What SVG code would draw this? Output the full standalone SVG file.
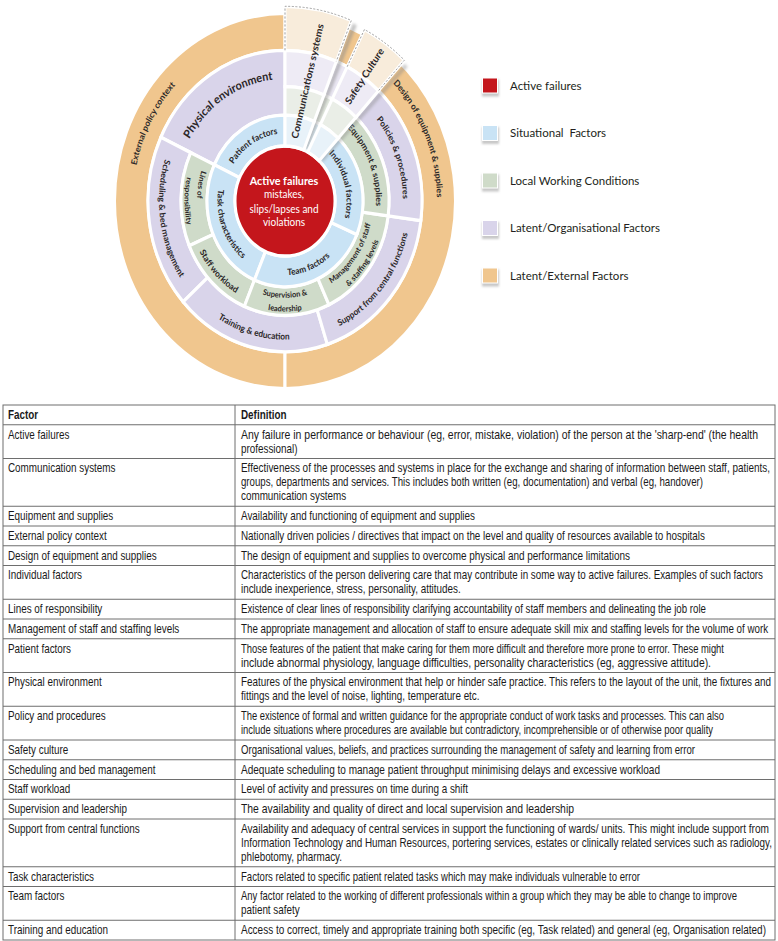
<svg xmlns="http://www.w3.org/2000/svg" width="778" height="941" viewBox="0 0 778 941">
<defs>
<style>
.seg{stroke:#fff;stroke-width:3;stroke-linejoin:miter}
.o{fill:#f0c68e}.p{fill:#d9d4ea}.g{fill:#cfdbc9}.b{fill:#c9e3f5}.r{fill:#c4161c}
.fo{fill:#f8ecdb}.fp{fill:#eeebf5}.fg{fill:#eaeee7}.fb{fill:#e8f2f9}
.dash{fill:none;stroke:#9b9b9b;stroke-width:0.9;stroke-dasharray:2 1.6}
.lab{font-family:Lato,"Open Sans","Liberation Sans",sans-serif;font-weight:700;font-size:8.2px;fill:#2a2627}
.sm{font-size:7.4px}
.big{font-size:10.8px}
.wl{font-family:Lato,"Open Sans","Liberation Sans",sans-serif;font-weight:700;font-size:9.5px;fill:#2a2627}
.ctr{font-family:Lato,"Open Sans","Liberation Sans",sans-serif;fill:#fff;text-anchor:middle}
.leg{font-family:Lato,"Open Sans","Liberation Sans",sans-serif;font-size:11.5px;fill:#231f20}
.tbl{font-family:"Liberation Sans",Arial,sans-serif;font-size:11.9px;fill:#1a1a1a}
.hd{font-weight:700}
.tl{stroke:#6e6e6e;stroke-width:1;fill:none}
</style>
<filter id="blur" x="-50%" y="-50%" width="200%" height="200%"><feGaussianBlur stdDeviation="1.6"/></filter>
<filter id="lsh" x="-40%" y="-40%" width="180%" height="180%"><feGaussianBlur stdDeviation="1.2"/></filter>
<path id="tp-ext" d="M -140.93 56.94 A 152 152 0 0 1 -31.60 -148.68"/>
<path id="tp-des" d="M 44.44 -145.36 A 152 152 0 0 1 135.43 69.01"/>
<path id="tp-phy" d="M -110.85 5.81 A 111 111 0 0 1 50.39 -98.90"/>
<path id="tp-sch" d="M -85.93 -92.15 A 126 126 0 0 0 -57.20 112.27"/>
<path id="tp-tra" d="M -118.40 43.09 A 126 126 0 0 0 80.99 96.52"/>
<path id="tp-sup" d="M -8.79 125.69 A 126 126 0 0 0 121.12 -34.73"/>
<path id="tp-pol" d="M 40.36 -110.88 A 118 118 0 0 1 102.19 59.00"/>
<path id="tp-lin1" d="M -44.00 -76.21 A 88 88 0 0 0 -67.41 56.57"/>
<path id="tp-lin2" d="M -64.60 -76.98 A 100.5 100.5 0 0 0 -64.60 76.98"/>
<path id="tp-stf" d="M -96.47 -10.14 A 97 97 0 0 0 6.77 96.76"/>
<path id="tp-sv1" d="M -67.41 56.57 A 88 88 0 0 0 67.41 56.57"/>
<path id="tp-sv2" d="M -76.99 64.60 A 100.5 100.5 0 0 0 76.99 64.60"/>
<path id="tp-mg1" d="M 6.14 87.79 A 88 88 0 0 0 85.39 -21.29"/>
<path id="tp-mg2" d="M 7.01 100.26 A 100.5 100.5 0 0 0 97.52 -24.31"/>
<path id="tp-eqp" d="M 28.12 -86.55 A 91 91 0 0 1 80.35 42.72"/>
<path id="tp-pat" d="M -61.46 2.15 A 61.5 61.5 0 0 1 28.87 -54.30"/>
<path id="tp-tsk" d="M -52.46 -42.48 A 67.5 67.5 0 0 0 -10.56 66.67"/>
<path id="tp-tea" d="M -41.56 53.19 A 67.5 67.5 0 0 0 66.84 9.39"/>
<path id="tp-ind" d="M 15.92 -59.40 A 61.5 61.5 0 0 1 43.49 43.49"/>
</defs>
<rect width="778" height="941" fill="#fff"/>

<g id="wheel" transform="translate(285,201) scale(1,1.1)">
  <g id="external-policy-context">
    <path class="seg o" d="M 0 170.5 A 170.5 170.5 0 0 1 0 -170.5 L 0 -137 A 137 137 0 0 0 0 137 Z"/>
    <text class="lab"><textPath href="#tp-ext" startOffset="50%" text-anchor="middle">External policy context</textPath></text>
  </g>
  <g id="design-of-equipment">
    <path class="seg o" d="M 63.87 -158.08 A 170.5 170.5 0 0 1 0 170.5 L 0 137 A 137 137 0 0 0 51.32 -127.02 Z"/>
    <text class="lab"><textPath href="#tp-des" startOffset="50%" text-anchor="middle">Design of equipment &amp; supplies</textPath></text>
  </g>
  <g id="physical-environment">
    <path class="seg p" d="M -124.16 -57.90 A 137 137 0 0 1 0 -137 L 0 -78 A 78 78 0 0 0 -70.69 -32.96 Z"/>
    <text class="lab big"><textPath href="#tp-phy" startOffset="50%" text-anchor="middle">Physical environment</textPath></text>
  </g>
  <g id="scheduling">
    <path class="seg p" d="M -101.81 91.67 A 137 137 0 0 1 -124.16 -57.90 L -94.26 -43.95 A 104 104 0 0 0 -77.29 69.59 Z"/>
    <text class="lab"><textPath href="#tp-sch" startOffset="50%" text-anchor="middle">Scheduling &amp; bed management</textPath></text>
  </g>
  <g id="training">
    <path class="seg p" d="M 42.34 130.30 A 137 137 0 0 1 -101.81 91.67 L -77.29 69.59 A 104 104 0 0 0 32.14 98.91 Z"/>
    <text class="lab"><textPath href="#tp-tra" startOffset="50%" text-anchor="middle">Training &amp; education</textPath></text>
  </g>
  <g id="support">
    <path class="seg p" d="M 135.83 17.88 A 137 137 0 0 1 42.34 130.30 L 32.14 98.91 A 104 104 0 0 0 103.11 13.58 Z"/>
    <text class="lab"><textPath href="#tp-sup" startOffset="50%" text-anchor="middle">Support from central functions</textPath></text>
  </g>
  <g id="policies">
    <path class="seg p" d="M 51.32 -127.02 A 137 137 0 0 1 135.83 17.88 L 103.11 13.58 A 104 104 0 0 0 38.96 -96.43 Z"/>
    <text class="lab"><textPath href="#tp-pol" startOffset="50%" text-anchor="middle">Policies &amp; procedures</textPath></text>
  </g>
  <g id="lines-of-responsibility">
    <path class="seg g" d="M -95.73 40.64 A 104 104 0 0 1 -94.26 -43.95 L -70.69 -32.96 A 78 78 0 0 0 -71.80 30.48 Z"/>
    <text class="lab sm"><textPath href="#tp-lin1" startOffset="50%" text-anchor="middle">Lines of</textPath></text>
    <text class="lab sm"><textPath href="#tp-lin2" startOffset="50%" text-anchor="middle">responsibility</textPath></text>
  </g>
  <g id="staff-workload">
    <path class="seg g" d="M -40.64 95.73 A 104 104 0 0 1 -95.73 40.64 L -71.80 30.48 A 78 78 0 0 0 -30.48 71.80 Z"/>
    <text class="lab"><textPath href="#tp-stf" startOffset="50%" text-anchor="middle">Staff workload</textPath></text>
  </g>
  <g id="supervision">
    <path class="seg g" d="M 43.95 94.26 A 104 104 0 0 1 -40.64 95.73 L -30.48 71.80 A 78 78 0 0 0 32.96 70.69 Z"/>
    <text class="lab sm"><textPath href="#tp-sv1" startOffset="50%" text-anchor="middle">Supervision &amp;</textPath></text>
    <text class="lab sm"><textPath href="#tp-sv2" startOffset="50%" text-anchor="middle">leadership</textPath></text>
  </g>
  <g id="management-of-staff">
    <path class="seg g" d="M 103.11 13.58 A 104 104 0 0 1 43.95 94.26 L 32.96 70.69 A 78 78 0 0 0 77.33 10.18 Z"/>
    <text class="lab sm"><textPath href="#tp-mg1" startOffset="50%" text-anchor="middle">Management of staff</textPath></text>
    <text class="lab sm"><textPath href="#tp-mg2" startOffset="50%" text-anchor="middle">&amp; staffing levels</textPath></text>
  </g>
  <g id="equipment-supplies">
    <path class="seg g" d="M 38.96 -96.43 A 104 104 0 0 1 103.11 13.58 L 77.33 10.18 A 78 78 0 0 0 29.22 -72.32 Z"/>
    <text class="lab"><textPath href="#tp-eqp" startOffset="50%" text-anchor="middle">Equipment &amp; supplies</textPath></text>
  </g>
  <g id="patient-factors">
    <path class="seg b" d="M -70.69 -32.96 A 78 78 0 0 1 0 -78 L 0 -50 A 50 50 0 0 0 -45.32 -21.13 Z"/>
    <text class="lab"><textPath href="#tp-pat" startOffset="50%" text-anchor="middle">Patient factors</textPath></text>
  </g>
  <g id="task-characteristics">
    <path class="seg b" d="M -30.48 71.80 A 78 78 0 0 1 -70.69 -32.96 L -45.32 -21.13 A 50 50 0 0 0 -19.54 46.03 Z"/>
    <text class="lab"><textPath href="#tp-tsk" startOffset="50%" text-anchor="middle">Task characteristics</textPath></text>
  </g>
  <g id="team-factors">
    <path class="seg b" d="M 71.80 30.48 A 78 78 0 0 1 -30.48 71.80 L -19.54 46.03 A 50 50 0 0 0 46.03 19.54 Z"/>
    <text class="lab"><textPath href="#tp-tea" startOffset="50%" text-anchor="middle">Team factors</textPath></text>
  </g>
  <g id="individual-factors">
    <path class="seg b" d="M 29.22 -72.32 A 78 78 0 0 1 71.80 30.48 L 46.03 19.54 A 50 50 0 0 0 18.73 -46.36 Z"/>
    <text class="lab"><textPath href="#tp-ind" startOffset="50%" text-anchor="middle">Individual factors</textPath></text>
  </g>
  <g id="active-failures">
    <circle r="50" class="r" stroke="#fff" stroke-width="3"/>
    <text class="ctr" x="-1" y="-14.5" font-size="10.8" font-weight="700">Active failures</text>
    <text class="ctr" x="-1" y="-2.7" font-size="10">mistakes,</text>
    <text class="ctr" x="-1" y="10.9" font-size="10">slips/lapses and</text>
    <text class="ctr" x="-1" y="22.7" font-size="10">violations</text>
  </g>
  <g id="wedge-shadows">
    <path d="M 51.32 -127.02 A 137 137 0 0 1 62.20 -122.07 L 22.70 -44.55 A 50 50 0 0 0 18.73 -46.36 Z" fill="#fff" opacity="0.45"/>
    <line x1="20.74" y1="-47.69" x2="69.78" y2="-160.49" stroke="#8a8a8a" stroke-width="4" opacity="0.55" filter="url(#blur)"/>
    <line x1="36.45" y1="-37.09" x2="121.26" y2="-123.39" stroke="#8a8a8a" stroke-width="4" opacity="0.45" filter="url(#blur)"/>
  </g>
  <g id="communications-systems">
    <path class="seg fo" d="M 0 -177 A 177 177 0 0 1 66.31 -164.11 L 51.32 -127.02 A 137 137 0 0 0 0 -137 Z"/>
    <path class="seg fp" d="M 0 -137 A 137 137 0 0 1 51.32 -127.02 L 38.96 -96.43 A 104 104 0 0 0 0 -104 Z"/>
    <path class="seg fg" d="M 0 -104 A 104 104 0 0 1 38.96 -96.43 L 29.22 -72.32 A 78 78 0 0 0 0 -78 Z"/>
    <path class="seg fb" d="M 0 -78 A 78 78 0 0 1 29.22 -72.32 L 18.73 -46.36 A 50 50 0 0 0 0 -50 Z"/>
    <path class="dash" d="M 0 -137 L 0 -177 A 177 177 0 0 1 66.31 -164.11 L 51.32 -127.02"/>
    <text class="wl" text-anchor="middle" transform="translate(22.5,-109) rotate(-76)" y="3.3">Communications systems</text>
  </g>
  <g id="safety-culture">
    <path class="seg fo" d="M 79.45 -155.93 A 175 175 0 0 1 119.35 -127.99 L 93.43 -100.19 A 137 137 0 0 0 62.20 -122.07 Z"/>
    <path class="seg fp" d="M 62.20 -122.07 A 137 137 0 0 1 93.43 -100.19 L 70.93 -76.06 A 104 104 0 0 0 47.21 -92.67 Z"/>
    <path class="seg fg" d="M 47.21 -92.67 A 104 104 0 0 1 70.93 -76.06 L 53.20 -57.05 A 78 78 0 0 0 35.41 -69.50 Z"/>
    <path class="seg fb" d="M 35.41 -69.50 A 78 78 0 0 1 53.20 -57.05 L 34.10 -36.57 A 50 50 0 0 0 22.70 -44.55 Z"/>
    <path class="dash" d="M 62.20 -122.07 L 79.45 -155.93 A 175 175 0 0 1 119.35 -127.99 L 93.43 -100.19"/>
    <text class="wl" text-anchor="middle" transform="translate(79.5,-113.6) rotate(-55)" y="3.3">Safety Culture</text>
  </g>
</g>

<g id="legend">
  <g id="legend-active">
    <rect x="482" y="79.5" width="17" height="17" fill="#c8c8c8" filter="url(#lsh)"/>
    <rect x="482" y="77.5" width="16" height="16" fill="#fff"/>
    <rect x="483" y="78.5" width="14" height="14" class="r"/>
    <text class="leg" x="510" y="89.5">Active failures</text>
  </g>
  <g id="legend-situational">
    <rect x="482" y="127" width="17" height="17" fill="#c8c8c8" filter="url(#lsh)"/>
    <rect x="482" y="125" width="16" height="16" fill="#fff"/>
    <rect x="483" y="126" width="14" height="14" class="b"/>
    <text class="leg" x="510" y="137" xml:space="preserve">Situational  Factors</text>
  </g>
  <g id="legend-local">
    <rect x="482" y="174.5" width="17" height="17" fill="#c8c8c8" filter="url(#lsh)"/>
    <rect x="482" y="172.5" width="16" height="16" fill="#fff"/>
    <rect x="483" y="173.5" width="14" height="14" class="g"/>
    <text class="leg" x="510" y="184.5">Local Working Conditions</text>
  </g>
  <g id="legend-organisational">
    <rect x="482" y="222" width="17" height="17" fill="#c8c8c8" filter="url(#lsh)"/>
    <rect x="482" y="220" width="16" height="16" fill="#fff"/>
    <rect x="483" y="221" width="14" height="14" class="p"/>
    <text class="leg" x="510" y="232">Latent/Organisational Factors</text>
  </g>
  <g id="legend-external">
    <rect x="482" y="269.5" width="17" height="17" fill="#c8c8c8" filter="url(#lsh)"/>
    <rect x="482" y="267.5" width="16" height="16" fill="#fff"/>
    <rect x="483" y="268.5" width="14" height="14" class="o"/>
    <text class="leg" x="510" y="279.5">Latent/External Factors</text>
  </g>
</g>

<g id="table">
  <g id="table-lines" class="tl">
    <rect x="3" y="405" width="772" height="535"/>
    <line x1="235" y1="405" x2="235" y2="940"/>
    <path d="M3 424.75H775M3 458.5H775M3 506.25H775M3 526H775M3 545.75H775M3 565.5H775M3 599.25H775M3 619H775M3 638.75H775M3 672.5H775M3 706.25H775M3 740H775M3 759.75H775M3 779.5H775M3 799.25H775M3 819H775M3 866.75H775M3 886.5H775M3 920.25H775"/>
  </g>
  <g class="tbl" transform="scale(0.83,1)">
    <g id="row-header" class="hd"><text x="9.64" y="419">Factor</text><text x="290.36" y="419">Definition</text></g>
    <g id="row-active"><text x="9.64" y="438.75">Active failures</text>
      <text x="290.36" y="438.75" textLength="622.9" lengthAdjust="spacingAndGlyphs">Any failure in performance or behaviour (eg, error, mistake, violation) of the person at the 'sharp-end' (the health</text>
      <text x="290.36" y="452.75">professional)</text></g>
    <g id="row-communication"><text x="9.64" y="472.5">Communication systems</text>
      <text x="290.36" y="472.5" textLength="637.3" lengthAdjust="spacingAndGlyphs">Effectiveness of the processes and systems in place for the exchange and sharing of information between staff, patients,</text>
      <text x="290.36" y="486.5" textLength="556.6" lengthAdjust="spacingAndGlyphs">groups, departments and services. This includes both written (eg, documentation) and verbal (eg, handover)</text>
      <text x="290.36" y="500.5">communication systems</text></g>
    <g id="row-equipment"><text x="9.64" y="520.25">Equipment and supplies</text><text x="290.36" y="520.25">Availability and functioning of equipment and supplies</text></g>
    <g id="row-external"><text x="9.64" y="540">External policy context</text><text x="290.36" y="540" textLength="559" lengthAdjust="spacingAndGlyphs">Nationally driven policies / directives that impact on the level and quality of resources available to hospitals</text></g>
    <g id="row-design"><text x="9.64" y="559.75">Design of equipment and supplies</text><text x="290.36" y="559.75" textLength="468.7" lengthAdjust="spacingAndGlyphs">The design of equipment and supplies to overcome physical and performance limitations</text></g>
    <g id="row-individual"><text x="9.64" y="579.5">Individual factors</text>
      <text x="290.36" y="579.5" textLength="628.9" lengthAdjust="spacingAndGlyphs">Characteristics of the person delivering care that may contribute in some way to active failures. Examples of such factors</text>
      <text x="290.36" y="593.5">include inexperience, stress, personality, attitudes.</text></g>
    <g id="row-lines"><text x="9.64" y="613.25">Lines of responsibility</text><text x="290.36" y="613.25" textLength="560.2" lengthAdjust="spacingAndGlyphs">Existence of clear lines of responsibility clarifying accountability of staff members and delineating the job role</text></g>
    <g id="row-management"><text x="9.64" y="633">Management of staff and staffing levels</text><text x="290.36" y="633" textLength="635" lengthAdjust="spacingAndGlyphs">The appropriate management and allocation of staff to ensure adequate skill mix and staffing levels for the volume of work</text></g>
    <g id="row-patient"><text x="9.64" y="652.75">Patient factors</text>
      <text x="290.36" y="652.75" textLength="581.9" lengthAdjust="spacingAndGlyphs">Those features of the patient that make caring for them more difficult and therefore more prone to error. These might</text>
      <text x="290.36" y="666.75" textLength="566.3" lengthAdjust="spacingAndGlyphs">include abnormal physiology, language difficulties, personality characteristics (eg, aggressive attitude).</text></g>
    <g id="row-physical"><text x="9.64" y="686.5">Physical environment</text>
      <text x="290.36" y="686.5" textLength="638.6" lengthAdjust="spacingAndGlyphs">Features of the physical environment that help or hinder safe practice. This refers to the layout of the unit, the fixtures and</text>
      <text x="290.36" y="700.5">fittings and the level of noise, lighting, temperature etc.</text></g>
    <g id="row-policy"><text x="9.64" y="720.25">Policy and procedures</text>
      <text x="290.36" y="720.25" textLength="581.9" lengthAdjust="spacingAndGlyphs">The existence of formal and written guidance for the appropriate conduct of work tasks and processes. This can also</text>
      <text x="290.36" y="734.25" textLength="568.7" lengthAdjust="spacingAndGlyphs">include situations where procedures are available but contradictory, incomprehensible or of otherwise poor quality</text></g>
    <g id="row-safety"><text x="9.64" y="754">Safety culture</text><text x="290.36" y="754" textLength="547" lengthAdjust="spacingAndGlyphs">Organisational values, beliefs, and practices surrounding the management of safety and learning from error</text></g>
    <g id="row-scheduling"><text x="9.64" y="773.75">Scheduling and bed management</text><text x="290.36" y="773.75" textLength="504.8" lengthAdjust="spacingAndGlyphs">Adequate scheduling to manage patient throughput minimising delays and excessive workload</text></g>
    <g id="row-staff"><text x="9.64" y="793.5">Staff workload</text><text x="290.36" y="793.5">Level of activity and pressures on time during a shift</text></g>
    <g id="row-supervision"><text x="9.64" y="813.25">Supervision and leadership</text><text x="290.36" y="813.25" textLength="401.2" lengthAdjust="spacingAndGlyphs">The availability and quality of direct and local supervision and leadership</text></g>
    <g id="row-support"><text x="9.64" y="833">Support from central functions</text>
      <text x="290.36" y="833" textLength="636.1" lengthAdjust="spacingAndGlyphs">Availability and adequacy of central services in support the functioning of wards/ units. This might include support from</text>
      <text x="290.36" y="847" textLength="639.8" lengthAdjust="spacingAndGlyphs">Information Technology and Human Resources, portering services, estates or clinically related services such as radiology,</text>
      <text x="290.36" y="861">phlebotomy, pharmacy.</text></g>
    <g id="row-task"><text x="9.64" y="880.75">Task characteristics</text><text x="290.36" y="880.75" textLength="480.7" lengthAdjust="spacingAndGlyphs">Factors related to specific patient related tasks which may make individuals vulnerable to error</text></g>
    <g id="row-team"><text x="9.64" y="900.5">Team factors</text>
      <text x="290.36" y="900.5" textLength="597.6" lengthAdjust="spacingAndGlyphs">Any factor related to the working of different professionals within a group which they may be able to change to improve</text>
      <text x="290.36" y="914.5">patient safety</text></g>
    <g id="row-training"><text x="9.64" y="934.25">Training and education</text><text x="290.36" y="934.25" textLength="632.5" lengthAdjust="spacingAndGlyphs">Access to correct, timely and appropriate training both specific (eg, Task related) and general (eg, Organisation related)</text></g>
  </g>
</g>
</svg>
